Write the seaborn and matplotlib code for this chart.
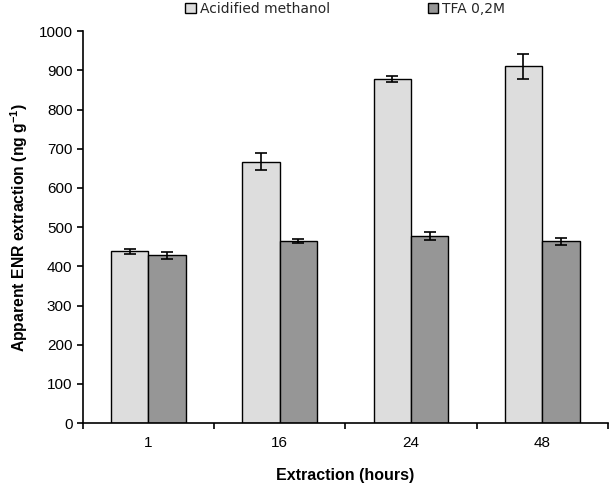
import numpy as np
import pandas as pd
import matplotlib
matplotlib.use("Agg")
import matplotlib.pyplot as plt
import matplotlib.patches as patches
import seaborn as sns

# data
hours = ["1", "16", "24", "48"]
series = ["Acidified methanol", "TFA 0,2M"]
acid_vals = [438, 667, 878, 910]
acid_err = [7, 21, 8, 32]
tfa_vals = [428, 465, 477, 464]
tfa_err = [8, 5, 10, 9]
colors = ["#DDDDDD", "#969696"]

sns.set_style("ticks")
plt.rcParams['font.family'] = ['Liberation Sans', 'DejaVu Sans']
plt.rcParams['mathtext.fontset'] = 'custom'
plt.rcParams['mathtext.rm'] = 'Liberation Sans:bold'
plt.rcParams['mathtext.bf'] = 'Liberation Sans:bold'

df = pd.DataFrame({
	'hours': hours * 2,
	'series': [series[0]] * 4 + [series[1]] * 4,
	'value': acid_vals + tfa_vals,
})
errs = acid_err + tfa_err

fig = plt.figure(figsize=(6.09, 4.87), dpi=100)
ax = fig.add_axes([0.136, 0.131, 0.862, 0.805])

sns.barplot(data=df, x='hours', y='value', hue='series', palette=colors,
	width=0.57, edgecolor='black', linewidth=1.0, errorbar=None, ax=ax,
	legend=False)

# error bars from bar patches
bars = [p for p in ax.patches if isinstance(p, patches.Rectangle)][:8]
xs = [b.get_x() + b.get_width() / 2 for b in bars]
ys = [b.get_height() for b in bars]
ax.errorbar(xs, ys, yerr=errs, fmt='none', ecolor='black', elinewidth=1.2,
	capsize=4, capthick=1.2)

ax.set_ylim(0, 1000)
ax.set_yticks(np.arange(0, 1001, 100))
ax.set_xlim(-0.5, 3.5)
ax.tick_params(axis='x', which='major', length=0, labelsize=11, pad=9,
	labelcolor='black')
ax.set_xticks(np.arange(-0.5, 3.6, 1), minor=True)
ax.tick_params(axis='x', which='minor', length=4, width=1.2, direction='out',
	color='black')
ax.tick_params(axis='y', length=4, width=1.2, labelsize=11, direction='out',
	color='black', labelcolor='black')

sns.despine(ax=ax)
ax.spines['left'].set_linewidth(1.2)
ax.spines['bottom'].set_linewidth(1.2)
ax.spines['left'].set_color('black')
ax.spines['bottom'].set_color('black')

ax.set_xlabel('Extraction (hours)', fontsize=11.5, fontweight='bold', labelpad=13,
	color='black')
ax.set_ylabel(r'Apparent ENR extraction (ng g$^{-1}$)', fontsize=11.3,
	fontweight='bold', labelpad=6, color='black')

handles = [patches.Patch(facecolor=c, edgecolor='black', linewidth=1.0) for c in colors]
fig.legend(handles, series, loc='center', bbox_to_anchor=(0.567, 0.982), ncol=2,
	frameon=False, prop={'family': 'DejaVu Sans', 'size': 10},
	handlelength=0.75, handleheight=0.75, handletextpad=0.3, columnspacing=7.05)

fig.savefig('out.png', dpi=100)
